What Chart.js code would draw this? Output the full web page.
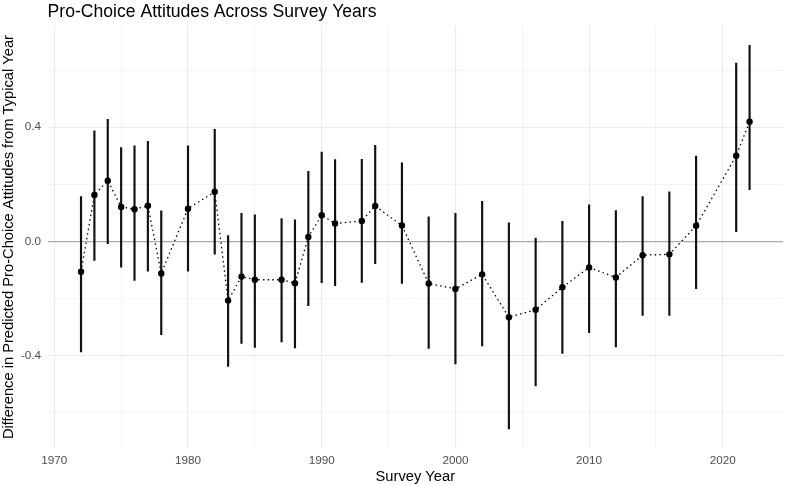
<!DOCTYPE html>
<html>
<head>
<meta charset="utf-8">
<script src="https://cdn.jsdelivr.net/npm/chart.js@4.4.1/dist/chart.umd.min.js"></script>
<style>
  html, body { margin: 0; padding: 0; background: #fff; }
  canvas { display: block; }
</style>
</head>
<body>
<canvas id="chart" width="787" height="486"></canvas>
<script>
// Survey years and the estimated difference from a typical year (with 95% interval)
const years = [1972, 1973, 1974, 1975, 1976, 1977, 1978, 1980, 1982, 1983, 1984,
  1985, 1987, 1988, 1989, 1990, 1991, 1993, 1994, 1996, 1998, 2000, 2002, 2004,
  2006, 2008, 2010, 2012, 2014, 2016, 2018, 2021, 2022];
const estimates = [-0.106, 0.163, 0.213, 0.121, 0.113, 0.125, -0.112, 0.115, 0.174, -0.207, -0.123,
  -0.134, -0.134, -0.146, 0.016, 0.092, 0.063, 0.072, 0.124, 0.056, -0.147, -0.166, -0.115, -0.265,
  -0.239, -0.160, -0.091, -0.126, -0.048, -0.045, 0.055, 0.300, 0.419];
const lower = [-0.387, -0.066, -0.008, -0.090, -0.136, -0.104, -0.326, -0.104, -0.044, -0.437, -0.357,
  -0.371, -0.352, -0.373, -0.225, -0.144, -0.155, -0.143, -0.078, -0.147, -0.374, -0.429, -0.366, -0.656,
  -0.506, -0.392, -0.319, -0.369, -0.259, -0.259, -0.165, 0.034, 0.181];
const upper = [0.157, 0.387, 0.428, 0.329, 0.335, 0.351, 0.107, 0.335, 0.393, 0.021, 0.099,
  0.093, 0.080, 0.076, 0.246, 0.313, 0.287, 0.288, 0.337, 0.275, 0.086, 0.099, 0.141, 0.065,
  0.012, 0.071, 0.128, 0.108, 0.157, 0.174, 0.299, 0.625, 0.687];

// Axis breaks (labelled) and minor gridlines
const xBreaks = [1970, 1980, 1990, 2000, 2010, 2020];
const xMinor = [1975, 1985, 1995, 2005, 2015];
const yBreaks = [-0.4, 0.0, 0.4];
const yMinor = [-0.6, -0.2, 0.2, 0.6];

const FONT = '"Liberation Sans", Arial, Helvetica, sans-serif';
const GRID = '#ebebeb';

const inList = (list, v) => list.some(m => Math.abs(m - v) < 1e-9);
const tickVal = c => (c && c.tick) ? c.tick.value : NaN;

// move the title so it starts at the panel's left edge, like ggplot
const titleToPanel = {
  id: 'titleToPanel',
  afterLayout(chart) {
    if (chart.titleBlock) chart.titleBlock.left = chart.chartArea.left;
  }
};

new Chart(document.getElementById('chart'), {
  type: 'scatter',
  data: {
    datasets: [
      {
        type: 'line',
        data: years.map((y, i) => ({ x: y, y: estimates[i] })),
        borderColor: '#000',
        borderWidth: 1.3,
        borderDash: [1.5, 3.2],
        pointRadius: 3.2,
        pointBackgroundColor: '#000',
        pointBorderWidth: 0,
        tension: 0,
        order: 1
      },
      {
        type: 'bar',
        data: years.map((y, i) => ({ x: y, y: [lower[i], upper[i]] })),
        backgroundColor: '#111',
        borderWidth: 0,
        barThickness: 1.5,
        order: 2
      }
    ]
  },
  options: {
    responsive: false,
    devicePixelRatio: 1,
    animation: false,
    layout: { padding: { left: 0, right: 2.4, top: 0, bottom: 0 } },
    plugins: {
      legend: { display: false },
      tooltip: { enabled: false },
      title: {
        display: true,
        text: 'Pro-Choice Attitudes Across Survey Years',
        align: 'start',
        color: '#000',
        font: { family: FONT, size: 17.6, weight: 'normal', lineHeight: 1.2 },
        padding: { top: 2, bottom: 3 }
      }
    },
    scales: {
      x: {
        type: 'linear',
        min: 1969.5,
        max: 2024.5,
        offset: false,
        afterBuildTicks: s => {
          s.ticks = xBreaks.concat(xMinor).sort((a, b) => a - b).map(v => ({ value: v }));
        },
        afterFit: s => { s.height = 38; },
        border: { display: false },
        grid: {
          offset: false,
          drawTicks: false,
          color: GRID,
          lineWidth: c => inList(xMinor, tickVal(c)) ? 0.55 : 1.1
        },
        ticks: {
          autoSkip: false,
          maxRotation: 0,
          padding: 6,
          color: '#4d4d4d',
          font: { family: FONT, size: 11.7 },
          callback: v => xBreaks.includes(v) ? String(v) : ''
        },
        title: {
          display: true,
          text: 'Survey Year',
          color: '#000',
          font: { family: FONT, size: 14.7, lineHeight: 1.2 },
          padding: { top: 0, bottom: 0 }
        }
      },
      y: {
        type: 'linear',
        min: -0.723,
        max: 0.754,
        afterBuildTicks: s => {
          s.ticks = yMinor.concat(yBreaks).sort((a, b) => a - b).map(v => ({ value: v }));
        },
        afterFit: s => { s.width = 47.6; },
        border: { display: false },
        grid: {
          drawTicks: false,
          color: c => Math.abs(tickVal(c)) < 1e-9 ? '#aaaaaa' : GRID,
          lineWidth: c => {
            const v = tickVal(c);
            if (Math.abs(v) < 1e-9) return 1.2;
            return inList(yMinor, v) ? 0.55 : 1.1;
          }
        },
        ticks: {
          autoSkip: false,
          padding: 6.5,
          color: '#4d4d4d',
          font: { family: FONT, size: 11.7 },
          callback: v => inList(yBreaks, v) ? v.toFixed(1) : ''
        },
        title: {
          display: true,
          text: 'Difference in Predicted Pro-Choice Attitudes from Typical Year',
          color: '#000',
          font: { family: FONT, size: 14.7, lineHeight: 1.2 },
          padding: { top: 0, bottom: 0 }
        }
      }
    }
  },
  plugins: [titleToPanel]
});
</script>
</body>
</html>
